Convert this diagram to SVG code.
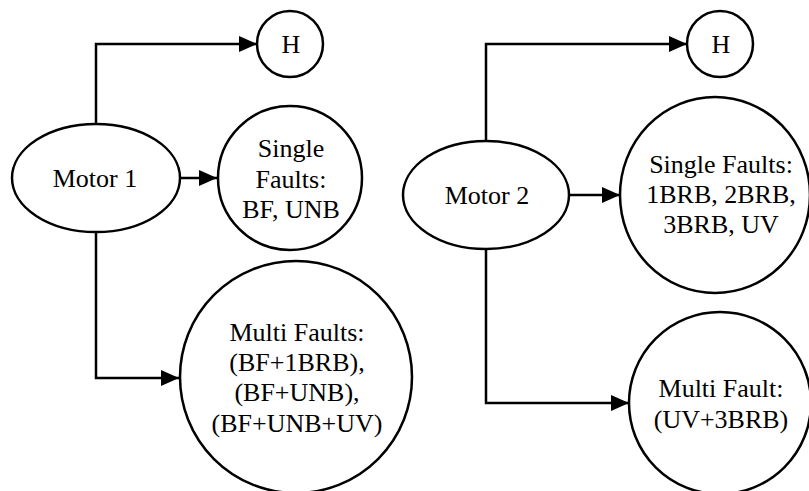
<svg xmlns="http://www.w3.org/2000/svg" width="809" height="491" viewBox="0 0 809 491">
<style>
.n{fill:#fff;stroke:#000;stroke-width:2.5}
.c{fill:none;stroke:#000;stroke-width:2.5;marker-end:url(#ah)}
text{font-family:"Liberation Serif","Times New Roman",serif;font-size:26px;fill:#000;text-anchor:middle}
</style>
<defs>
<marker id="ah" markerUnits="userSpaceOnUse" markerWidth="20" markerHeight="18" viewBox="0 0 20 18" refX="19" refY="9" orient="auto">
<path d="M1,1 L19,9 L1,17 Z" fill="#000"/>
</marker>
</defs>
<rect width="809" height="491" fill="#fff"/>
<g id="connectors">
<path class="c" d="M96,124 V44 H257"/>
<path class="c" d="M180,178 H217"/>
<path class="c" d="M96,232 V378 H179"/>
<path class="c" d="M486,141 V44 H687"/>
<path class="c" d="M570,195 H620"/>
<path class="c" d="M486,249 V403 H629"/>
</g>
<g id="motor1">
<ellipse class="n" cx="96" cy="178" rx="84" ry="54"/>
<text x="95" y="187">Motor 1</text>
</g>
<g id="h1">
<circle class="n" cx="290" cy="44" r="33"/>
<text x="291" y="53">H</text>
</g>
<g id="single1">
<circle class="n" cx="290" cy="178" r="72"/>
<text x="291" y="157">Single</text>
<text x="291" y="188">Faults:</text>
<text x="291" y="218">BF, UNB</text>
</g>
<g id="multi1">
<circle class="n" cx="296" cy="377" r="116"/>
<text x="297" y="341">Multi Faults:</text>
<text x="297" y="371">(BF+1BRB),</text>
<text x="297" y="401">(BF+UNB),</text>
<text x="297" y="432">(BF+UNB+UV)</text>
</g>
<g id="motor2">
<ellipse class="n" cx="486" cy="195" rx="83" ry="54"/>
<text x="487" y="204">Motor 2</text>
</g>
<g id="h2">
<circle class="n" cx="720" cy="44" r="33"/>
<text x="721" y="53">H</text>
</g>
<g id="single2">
<ellipse class="n" cx="715" cy="195" rx="95" ry="98"/>
<text x="721" y="173">Single Faults:</text>
<text x="721" y="203">1BRB, 2BRB,</text>
<text x="721" y="233">3BRB, UV</text>
</g>
<g id="multi2">
<circle class="n" cx="720" cy="403" r="91"/>
<text x="721" y="397">Multi Fault:</text>
<text x="721" y="428">(UV+3BRB)</text>
</g>
</svg>
